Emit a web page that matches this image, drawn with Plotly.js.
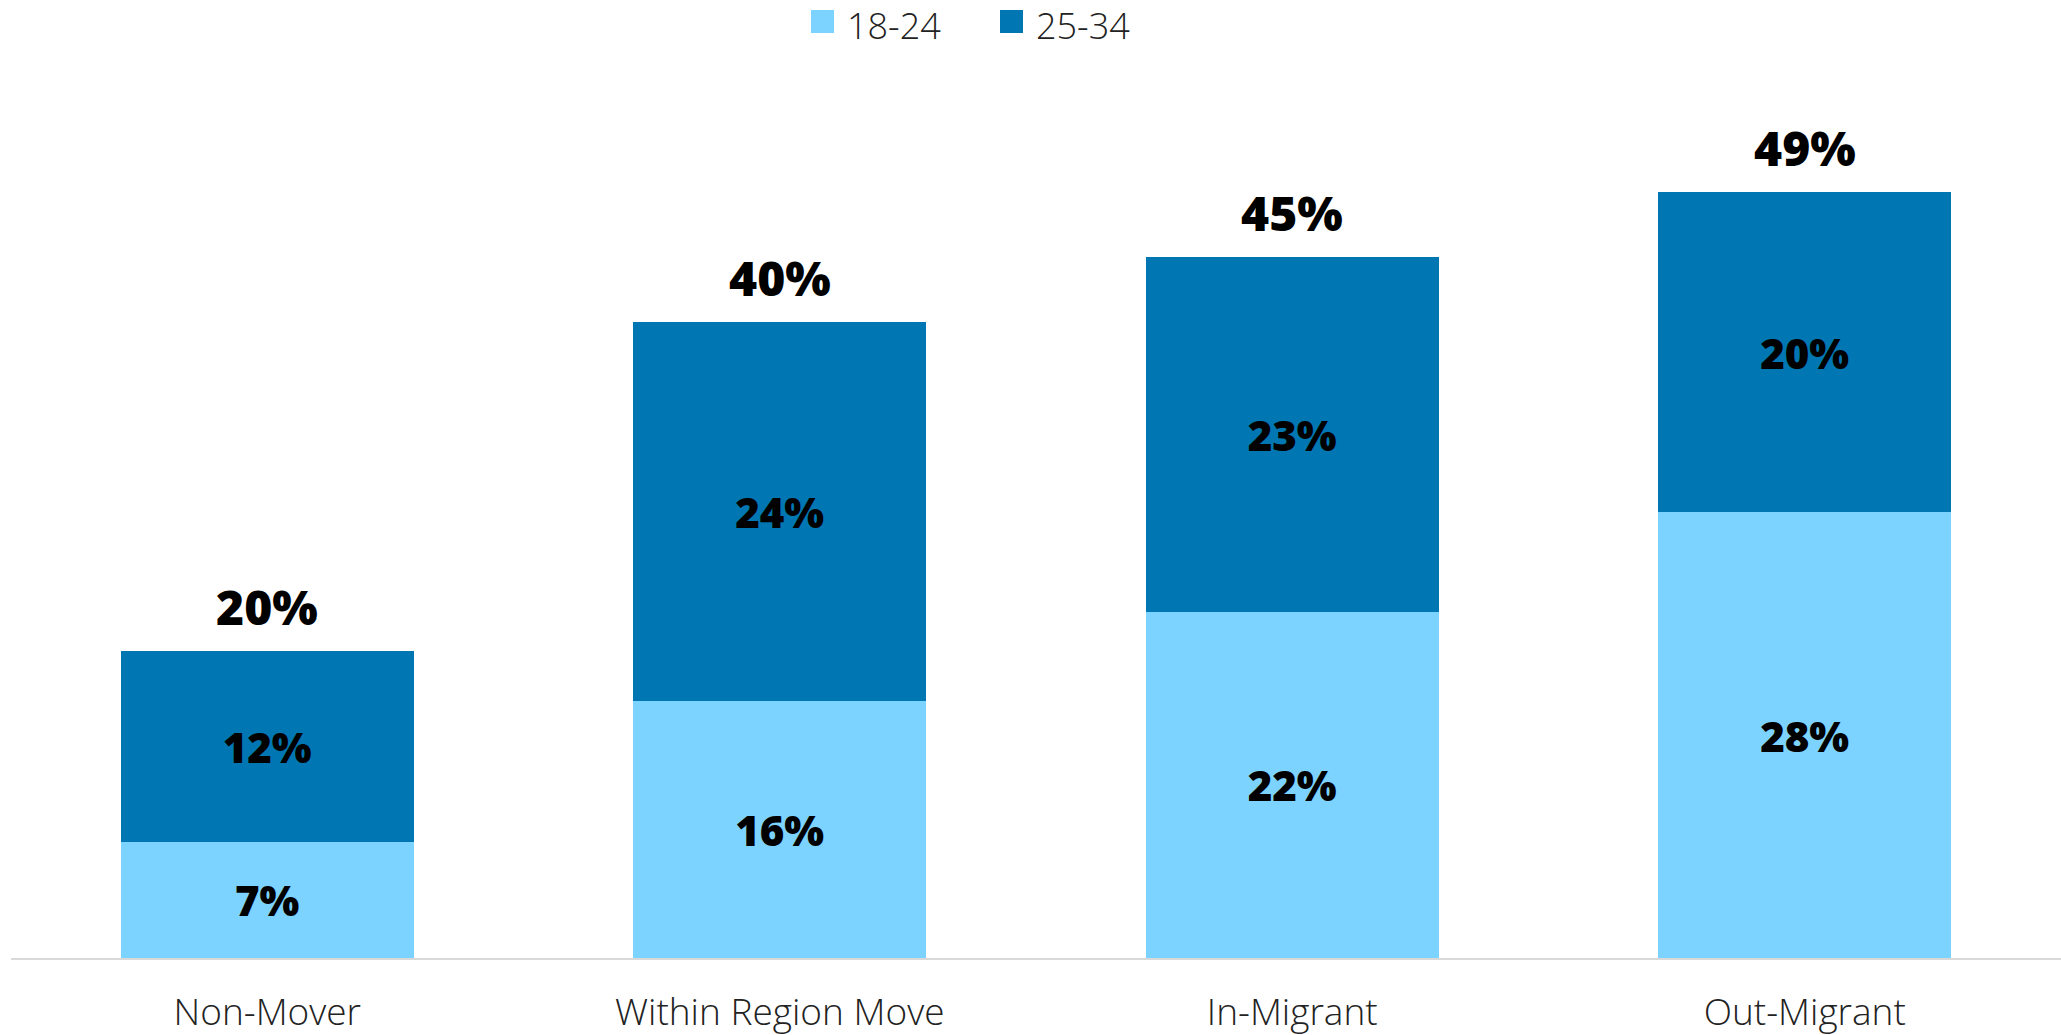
<!DOCTYPE html>
<html>
<head>
<meta charset="utf-8">
<script src="https://cdn.plot.ly/plotly-3.0.1.min.js"></script>
<style>html,body{margin:0;padding:0;background:#fff;}#chart{width:2061px;height:1035px;}</style>
</head>
<body>
<div id="chart"></div>
<script>
const categories = ["Non-Mover", "Within Region Move", "In-Migrant", "Out-Migrant"];
const seriesNames = ["18-24", "25-34"];
const values1824 = [7.44, 16.47, 22.18, 28.59];
const values2534 = [12.24, 24.30, 22.76, 20.51];
const labels1824 = ["7%", "16%", "22%", "28%"];
const labels2534 = ["12%", "24%", "23%", "20%"];
const totalLabels = ["20%", "40%", "45%", "49%"];
const colors = ["#7DD3FF", "#0076B2"];

const totals = values1824.map((v, i) => v + values2534[i]);
const segFont = {family: "Open Sans", size: 42, color: "#000", weight: 800};

const traces = [
  {type: "bar", name: seriesNames[0], x: categories, y: values1824, marker: {color: colors[0]},
   text: labels1824, textposition: "inside", insidetextanchor: "middle", textangle: 0,
   constraintext: "none", textfont: segFont, hoverinfo: "skip", showlegend: false},
  {type: "bar", name: seriesNames[1], x: categories, y: values2534, marker: {color: colors[1]},
   text: labels2534, textposition: "inside", insidetextanchor: "middle", textangle: 0,
   constraintext: "none", textfont: segFont, hoverinfo: "skip", showlegend: false}
];

const annotations = categories.map((c, i) => ({
  x: c, y: totals[i], xref: "x", yref: "y", text: totalLabels[i], showarrow: false,
  yanchor: "bottom", yshift: 10,
  font: {family: "Open Sans", size: 48, color: "#000", weight: 800}
}));

// custom legend
const shapes = [];
const legX = [811, 1000];
seriesNames.forEach((n, i) => {
  shapes.push({type: "rect", xref: "paper", yref: "paper", layer: "above",
    x0: (legX[i] - 11) / 2050, x1: (legX[i] + 23 - 11) / 2050,
    y0: (958 - 33) / 858, y1: (958 - 10) / 858,
    fillcolor: colors[i], line: {width: 0}});
  annotations.push({xref: "paper", yref: "paper", x: (legX[i] + 34 - 11) / 2050, y: (958 - 26) / 858,
    xanchor: "left", yanchor: "middle", showarrow: false, text: n,
    font: {family: "Open Sans", size: 36, color: "#222", weight: 300}});
});

const layout = {
  width: 2061, height: 1035,
  margin: {l: 11, r: 0, t: 100, b: 77},
  paper_bgcolor: "#fff", plot_bgcolor: "#fff",
  barmode: "stack", bargap: 0.429,
  showlegend: false,
  xaxis: {showline: true, linecolor: "#d9d9d9", linewidth: 2, ticks: "", showgrid: false,
    tickfont: {family: "Open Sans", size: 37, color: "#222", weight: 300}, ticklabelstandoff: 21},
  yaxis: {range: [0, 55], visible: false, showgrid: false, zeroline: false},
  annotations: annotations,
  shapes: shapes
};

Plotly.newPlot("chart", traces, layout, {displayModeBar: false, staticPlot: true});
</script>
</body>
</html>
